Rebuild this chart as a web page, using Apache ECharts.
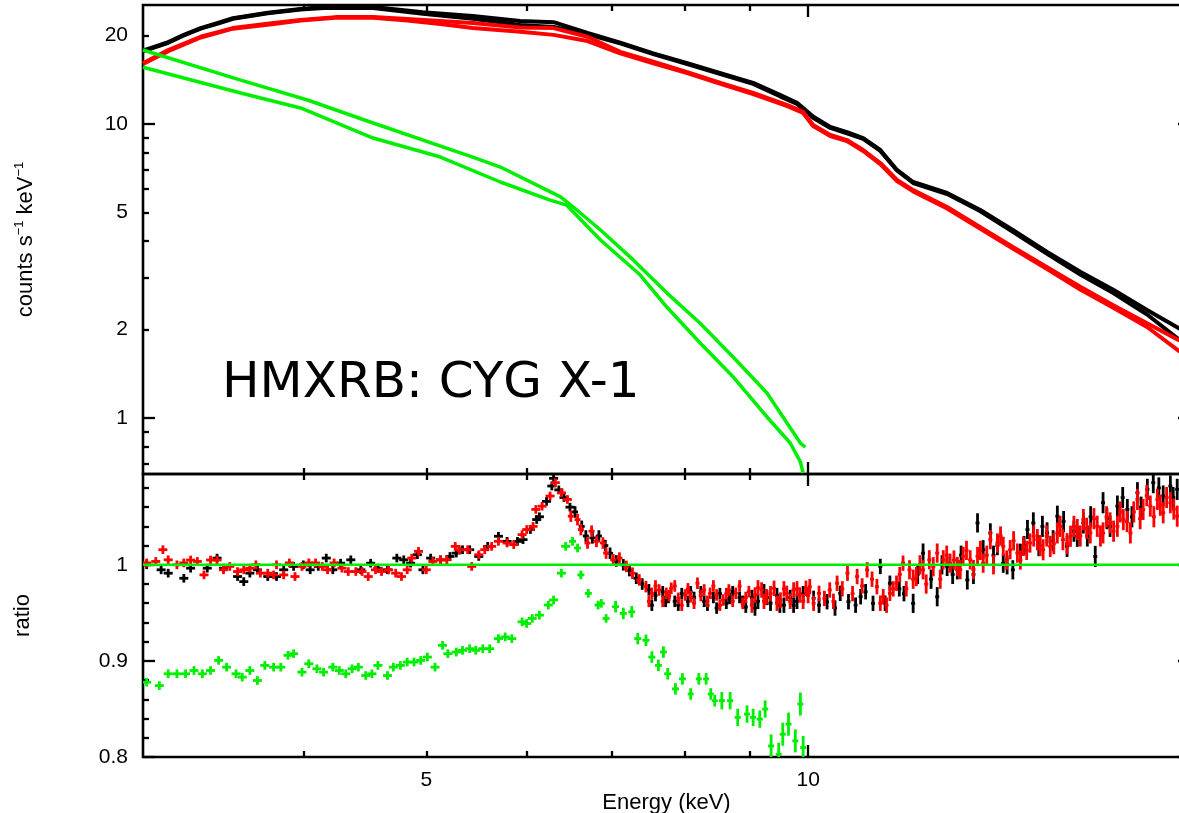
<!DOCTYPE html>
<html><head><meta charset="utf-8">
<script src="https://cdn.jsdelivr.net/npm/echarts@6/dist/echarts.min.js"></script>
<style>html,body{margin:0;padding:0;background:#fff}#c{width:1179px;height:813px}</style>
</head><body><div id="c"></div>
<script>
// ---------- data (energy keV, value) ----------
const black1 = [[2.99,17.8],[3.03,18.1],[3.13,19.0],[3.22,20.1],[3.32,21.2],[3.42,22.05],[3.52,22.9],[3.75,23.9],[3.98,24.6],[4.15,25.0],[4.54,25.0],[4.97,24.0],[5.44,23.3],[5.93,22.4],[6.3,22.2],[6.7,20.4],[7.11,18.9],[7.55,17.4],[8.03,16.1],[8.53,14.9],[9.05,13.8],[9.51,12.55],[9.8,11.8],[10.09,10.6],[10.41,9.77],[10.73,9.39],[11.05,8.96],[11.4,8.16],[11.75,6.98],[12.1,6.35],[12.87,5.83],[13.67,5.10],[14.5,4.36],[15.43,3.67],[16.4,3.14],[17.4,2.73],[18.5,2.33],[19.6,2.02],[20,1.96]];
const black2 = [[2.99,17.7],[3.03,18.0],[3.13,18.9],[3.22,20.0],[3.32,21.1],[3.42,21.9],[3.52,22.8],[3.75,23.8],[3.98,24.5],[4.15,24.8],[4.54,24.8],[4.97,23.7],[5.44,22.8],[5.93,21.7],[6.3,21.4],[6.7,20.2],[7.11,18.8],[7.55,17.3],[8.03,16.0],[8.53,14.8],[9.05,13.7],[9.51,12.4],[9.8,11.7],[10.09,10.5],[10.41,9.7],[10.73,9.3],[11.05,8.9],[11.4,8.1],[11.75,6.95],[12.1,6.3],[12.87,5.78],[13.67,5.05],[14.5,4.3],[15.43,3.62],[16.4,3.07],[17.4,2.66],[18.5,2.25],[19.6,1.85],[20,1.80]];
const red1 = [[2.99,16.1],[3.13,17.85],[3.32,19.8],[3.52,21.2],[3.79,22.05],[3.98,22.6],[4.24,23.1],[4.54,23.1],[4.83,22.75],[5.13,22.4],[5.44,22.05],[5.93,21.3],[6.3,21.2],[6.7,19.8],[7.11,17.6],[7.55,16.3],[8.03,15.0],[8.53,13.8],[9.05,12.75],[9.63,11.6],[9.91,11.0],[10.09,9.92],[10.41,9.18],[10.73,8.82],[11.05,8.16],[11.4,7.37],[11.75,6.45],[12.1,5.96],[12.87,5.22],[13.67,4.46],[14.5,3.82],[15.43,3.26],[16.4,2.79],[17.4,2.42],[18.5,2.10],[19.6,1.84],[20,1.79]];
const red2 = [[2.99,16.0],[3.13,17.7],[3.32,19.7],[3.52,21.1],[3.79,21.9],[3.98,22.5],[4.24,23.0],[4.54,23.0],[4.83,22.5],[5.13,21.9],[5.44,21.2],[5.93,20.6],[6.3,20.1],[6.7,19.15],[7.11,17.4],[7.55,16.1],[8.03,14.9],[8.53,13.7],[9.05,12.65],[9.63,11.5],[9.91,10.9],[10.09,9.85],[10.41,9.1],[10.73,8.75],[11.05,8.1],[11.4,7.3],[11.75,6.4],[12.1,5.9],[12.87,5.16],[13.67,4.4],[14.5,3.77],[15.43,3.21],[16.4,2.73],[17.4,2.37],[18.5,2.04],[19.6,1.69],[20,1.65]];
const greenUp = [[2.99,17.85],[3.57,14.1],[4.03,12.07],[4.54,10.08],[5.44,7.72],[5.72,7.14],[6.38,5.65],[6.53,5.22],[6.86,4.36],[7.28,3.45],[7.74,2.66],[8.22,2.10],[8.73,1.61],[9.28,1.216],[9.86,0.822],[9.95,0.796]];
const greenLo = [[2.99,15.6],[3.57,12.75],[3.98,11.34],[4.54,8.96],[5.13,7.72],[5.72,6.35],[6.26,5.51],[6.45,5.3],[6.86,4.03],[7.37,3.07],[7.74,2.38],[8.22,1.80],[8.73,1.378],[9.28,1.008],[9.68,0.822],[9.86,0.709],[9.91,0.65]];

const ratioBlack = [[3.01,1.0],[3.09,0.9948],[3.13,0.9913],[3.22,0.986],[3.26,0.9965],[3.36,0.9965],[3.42,1.007],[3.46,0.9965],[3.55,0.9878],[3.59,0.9825],[3.63,0.9913],[3.68,0.9948],[3.75,0.9878],[3.81,0.9878],[3.86,0.9948],[3.93,0.9983],[4.0,1.0],[4.05,0.9948],[4.11,0.9983],[4.17,1.007],[4.22,0.9948],[4.28,1.0017],[4.36,1.0052],[4.44,0.9948],[4.52,1.0017],[4.58,0.9965],[4.66,0.9948],[4.74,1.007],[4.8,1.0052],[4.86,1.0017],[4.92,1.0105],[4.97,0.9948],[5.04,1.007],[5.13,1.0052],[5.22,1.0087],[5.28,1.0122],[5.34,1.0157],[5.41,1.0157],[5.5,1.0087],[5.59,1.0192],[5.7,1.0297],[5.79,1.0244],[5.9,1.0244],[5.96,1.0262],[6.04,1.0367],[6.11,1.0471],[6.14,1.05],[6.22,1.066],[6.28,1.082],[6.30,1.09],[6.36,1.078],[6.42,1.07],[6.49,1.06],[6.55,1.055],[6.63,1.04],[6.68,1.03],[6.76,1.028],[6.84,1.03],[6.92,1.02],[6.98,1.012],[7.06,1.004],[7.15,1.0],[7.23,0.994],[7.32,0.986],[7.40,0.98],[7.49,0.974],[7.58,0.968],[7.68,0.972],[7.76,0.966],[7.85,0.962],[7.95,0.97],[8.04,0.962],[8.13,0.966],[8.23,0.972],[8.33,0.958],[8.42,0.966],[8.52,0.97],[8.62,0.96],[8.72,0.972],[8.83,0.966],[8.93,0.956],[9.03,0.966],[9.13,0.962],[9.23,0.972],[9.34,0.96],[9.45,0.968],[9.57,0.958],[9.68,0.966],[9.8,0.962],[9.91,0.97],[10.1,0.9651],[10.35,0.9616],[10.6,0.9703],[10.76,0.9616],[11.0,0.9668],[11.25,0.9599],[11.4,0.9983],[11.6,0.9808],[11.8,0.975],[12.1,0.9599],[12.32,1.0122],[12.5,0.985],[12.64,0.9668],[12.87,0.9983],[13.0,0.99],[13.11,0.9948],[13.35,0.9843],[13.6,1.0436],[13.74,1.0157],[13.92,1.0332],[14.0,1.01],[14.25,1.0017],[14.5,0.9948],[14.7,1.012],[14.89,1.0367],[15.05,1.0436],[15.2,1.02],[15.43,1.0332],[15.72,1.0506],[16.0,1.0192],[16.3,1.0297],[16.48,1.0436],[16.6,1.03],[16.84,1.0087],[17.08,1.0646],[17.3,1.04],[17.53,1.0611],[17.85,1.0576],[18.0,1.05],[18.18,1.075],[18.51,1.0785],[18.71,1.0855],[19.05,1.0716],[19.3,1.082],[19.54,1.0785],[19.9,1.08]];
const ratioBlackB = [[7.53,0.958],[7.72,0.962],[7.9,0.958],[8.08,0.972],[8.28,0.962],[8.47,0.955],[8.67,0.965],[8.88,0.962],[9.08,0.955],[9.28,0.966],[9.5,0.958],[9.74,0.958],[10.2,0.958],[10.5,0.955],[10.9,0.958],[11.1,0.972],[11.5,0.96],[11.9,0.97],[12.2,0.99],[12.75,1.0],[13.2,1.01],[13.5,0.99],[14.1,1.02],[14.35,1.0],[14.8,1.02],[15.3,1.04],[15.6,1.025],[15.9,1.045],[16.2,1.035],[16.7,1.05],[17.2,1.048],[17.7,1.07],[18.3,1.06],[18.9,1.08],[19.4,1.07],[19.8,1.09]];
const ratioRed = [[3.01,1.002],[3.06,1.0035],[3.10,1.0157],[3.13,1.0052],[3.18,1.0],[3.22,1.002],[3.26,1.005],[3.30,1.0035],[3.34,0.9895],[3.38,1.005],[3.42,1.005],[3.46,0.9948],[3.50,0.9983],[3.55,0.993],[3.59,0.9948],[3.63,0.9965],[3.67,1.0],[3.70,0.9913],[3.75,0.9913],[3.79,0.9895],[3.81,1.0],[3.86,0.9895],[3.90,1.002],[3.94,0.9878],[3.99,0.9983],[4.04,1.002],[4.09,1.002],[4.14,0.9983],[4.18,0.9948],[4.23,1.002],[4.29,0.9965],[4.34,0.993],[4.40,0.993],[4.45,0.993],[4.50,0.9878],[4.56,0.9948],[4.61,0.993],[4.67,0.9948],[4.73,0.9913],[4.78,0.9878],[4.83,0.9948],[4.87,1.007],[4.93,1.014],[5.0,0.9948],[5.06,1.0035],[5.13,1.0052],[5.19,1.0052],[5.27,1.0192],[5.31,1.0157],[5.39,1.0157],[5.43,0.9983],[5.50,1.0105],[5.56,1.0157],[5.63,1.0192],[5.70,1.0244],[5.79,1.0227],[5.86,1.021],[5.95,1.0314],[6.00,1.0367],[6.07,1.04],[6.10,1.0576],[6.17,1.061],[6.26,1.0716],[6.32,1.0855],[6.39,1.075],[6.46,1.068],[6.50,1.0506],[6.58,1.047],[6.62,1.0367],[6.70,1.0227],[6.75,1.035],[6.81,1.0244],[6.89,1.0227],[6.93,1.0122],[7.02,1.0052],[7.10,1.007],[7.19,0.9983],[7.27,0.9913],[7.36,0.9843],[7.45,0.9773],[7.53,0.9703],[7.63,0.9738],[7.73,0.9703],[7.80,0.9756],[7.90,0.9651],[8.0,0.9686],[8.08,0.9668],[8.18,0.9808],[8.28,0.9738],[8.37,0.9703],[8.47,0.9686],[8.57,0.9633],[8.66,0.9738],[8.77,0.9703],[8.88,0.9599],[8.98,0.9721],[9.08,0.9686],[9.19,0.9738],[9.27,0.9668],[9.40,0.9756],[9.51,0.9633],[9.62,0.9703],[9.74,0.9738],[9.85,0.9686],[9.96,0.9756],[10.03,0.9773],[10.2,0.9703],[10.4,0.9738],[10.54,0.9808],[10.74,0.9913],[10.93,0.9878],[11.13,0.9948],[11.33,0.9773],[11.46,0.9668],[11.6,0.9703],[11.74,0.9808],[11.88,1.0017],[12.02,0.9948],[12.17,0.9878],[12.32,0.9948],[12.46,1.0052],[12.64,1.0122],[12.78,1.0052],[12.94,1.0017],[13.11,0.9983],[13.25,1.0087],[13.42,1.0052],[13.6,1.0087],[13.74,1.0017],[13.92,1.0262],[14.1,1.0227],[14.25,1.0192],[14.43,1.0157],[14.62,1.0122],[14.78,1.0192],[14.96,1.0227],[15.16,1.0262],[15.32,1.0157],[15.52,1.0192],[15.72,1.0332],[15.88,1.0262],[16.1,1.0297],[16.3,1.0367],[16.48,1.0471],[16.69,1.0332],[16.9,1.0401],[17.08,1.0332],[17.3,1.0436],[17.53,1.0401],[17.72,1.0471],[17.95,1.0332],[18.18,1.0681],[18.37,1.0576],[18.61,1.0611],[18.85,1.0681],[19.05,1.0541],[19.3,1.0646],[19.54,1.0506],[19.9,1.06]];
const ratioRedB = [[7.49,0.962],[7.58,0.978],[7.68,0.962],[7.77,0.968],[7.85,0.978],[7.95,0.958],[8.04,0.975],[8.13,0.96],[8.23,0.968],[8.33,0.962],[8.42,0.978],[8.52,0.958],[8.62,0.97],[8.72,0.962],[8.83,0.978],[8.93,0.966],[9.03,0.958],[9.13,0.976],[9.23,0.962],[9.34,0.97],[9.45,0.96],[9.57,0.975],[9.68,0.962],[9.8,0.975],[9.91,0.962],[10.0,0.968],[10.1,0.96],[10.3,0.965],[10.47,0.962],[10.64,0.975],[10.84,0.97],[11.03,0.978],[11.23,0.985],[11.4,0.96],[11.53,0.958],[11.67,0.975],[11.81,0.99],[11.95,0.975],[12.1,0.985],[12.25,1.0],[12.39,0.98],[12.55,0.998],[12.71,0.985],[12.86,1.01],[13.03,1.005],[13.18,0.995],[13.33,1.015],[13.5,0.995],[13.67,1.015],[13.83,1.01],[14.0,1.0],[14.18,1.03],[14.34,1.005],[14.52,1.025],[14.7,1.005],[14.87,1.015],[15.06,1.03],[15.24,1.02],[15.42,1.03],[15.62,1.022],[15.8,1.04],[16.0,1.022],[16.2,1.04],[16.39,1.03],[16.58,1.038],[16.8,1.048],[17.0,1.03],[17.19,1.05],[17.41,1.035],[17.62,1.055],[17.84,1.045],[18.06,1.055],[18.27,1.048],[18.49,1.072],[18.73,1.05],[18.95,1.062],[19.17,1.07],[19.42,1.058],[19.7,1.068]];
const ratioGreen = [[3.01,0.8778],[3.08,0.8743],[3.13,0.8866],[3.18,0.8866],[3.23,0.8866],[3.28,0.89],[3.33,0.8866],[3.38,0.89],[3.43,0.9005],[3.48,0.8935],[3.54,0.8866],[3.58,0.8831],[3.63,0.89],[3.68,0.8796],[3.73,0.8953],[3.79,0.8935],[3.84,0.8935],[3.89,0.9058],[3.93,0.9075],[3.99,0.8883],[4.04,0.897],[4.10,0.8918],[4.15,0.8883],[4.22,0.8935],[4.27,0.89],[4.32,0.8866],[4.37,0.8918],[4.42,0.8935],[4.48,0.8848],[4.53,0.8866],[4.58,0.8953],[4.66,0.8848],[4.71,0.8935],[4.77,0.8953],[4.83,0.8988],[4.89,0.8988],[4.95,0.9005],[5.01,0.904],[5.08,0.8935],[5.15,0.9162],[5.2,0.9075],[5.28,0.9092],[5.34,0.911],[5.41,0.9127],[5.47,0.911],[5.54,0.9127],[5.61,0.9127],[5.7,0.9232],[5.77,0.925],[5.84,0.9232],[5.95,0.9407],[6.0,0.9389],[6.06,0.9442],[6.14,0.9476],[6.24,0.9581],[6.3,0.9634],[6.39,0.9913],[6.44,1.0192],[6.52,1.0244],[6.58,1.0175],[6.62,0.9895],[6.71,0.9703],[6.83,0.9581],[6.87,0.9599],[6.93,0.9442],[7.05,0.9564],[7.15,0.9494],[7.26,0.9511],[7.34,0.9232],[7.45,0.9215],[7.53,0.904],[7.62,0.8953],[7.69,0.9092],[7.75,0.8866],[7.86,0.8709],[7.96,0.8813],[8.08,0.8656],[8.2,0.8813],[8.31,0.8813],[8.38,0.8656],[8.44,0.8586],[8.55,0.8586],[8.68,0.8586],[8.8,0.8412],[8.95,0.8447],[9.05,0.8412],[9.16,0.8394],[9.25,0.8499],[9.35,0.8115],[9.48,0.8028],[9.55,0.8237],[9.65,0.8342],[9.77,0.8168],[9.86,0.8551],[9.91,0.8098]];
const unityLine = [[2.99,1],[20,1]];

// ratio error sizes by energy band: [from keV, +/- ratio]
const errBlackRed = [[0,0.0045],[6.5,0.006],[9,0.008],[12,0.010],[15,0.011]];
const errGreen = [[0,0.0045],[7,0.006],[8.5,0.009],[9.3,0.012]];

// axes
const X_MIN = 2.99, X_MAX = 20;
const TOP_MIN = 0.645, TOP_MAX = 25.4;
const R_MIN = 0.8, R_MAX = 1.0945;
const xMajor = [10], xMinor = [4,5,6,7,8,9,20], xLabels = [5,10];
const topMajor = [1,10], topMinor = [0.7,0.8,0.9,2,3,4,5,6,7,8,9,20], topLabels = [1,2,5,10,20];
const rMajor = [0.8,0.9,1.0], rMinor = [0.82,0.84,0.86,0.88,0.92,0.94,0.96,0.98,1.02,1.04,1.06,1.08], rLabels = [0.8,0.9,1];

// ---------- chart ----------
const L = Math.log10;
const FONT = '"Liberation Sans", Arial, Helvetica, sans-serif';
const GREEN = '#00ee00';
const MAJ = 12, MIN_T = 6;
const LABEL_SIZE = 21, NAME_SIZE = 22;

function fmt(v, logSpace){
  if (logSpace) return String(+Math.pow(10, v).toPrecision(3));
  return String(+v.toFixed(2));
}
function tickAxis(grid, pos, logSpace, min, max, values, len){
  return {type:'value', gridIndex:grid, position:pos,
    min: logSpace ? L(min) : min, max: logSpace ? L(max) : max,
    axisLine:{show:false, onZero:false}, splitLine:{show:false},
    axisTick:{show:true, inside:true, length:len, customValues: values.map(v => logSpace ? L(v) : v),
      lineStyle:{color:'#000', width:2.3}},
    axisLabel:{show:false}};
}
function labelAxis(grid, pos, logSpace, min, max, values, margin){
  return {type:'value', gridIndex:grid, position:pos,
    min: logSpace ? L(min) : min, max: logSpace ? L(max) : max,
    axisLine:{show:false, onZero:false}, splitLine:{show:false}, axisTick:{show:false},
    axisLabel:{show:true, customValues: values.map(v => logSpace ? L(v) : v), margin:margin,
      color:'#000', fontFamily:FONT, fontSize:LABEL_SIZE, formatter: v => fmt(v, logSpace)}};
}
function bandErr(bands, e){
  let r = bands[0][1];
  for (const b of bands) if (e >= b[0]) r = b[1];
  return r;
}
function crossSeries(name, data, color, bands, hwBands, z){
  return {type:'custom', name:name, xAxisIndex:1, yAxisIndex:1, data:data, z:z, clip:true, silent:true,
    encode:{x:0, y:1},
    renderItem:(params, api) => {
      const e = api.value(0), r = api.value(1);
      const p = api.coord([e, r]);
      const hw = bandErr(hwBands, e);
      const err = bandErr(bands, e);
      const t = api.coord([e, r+err])[1], b = api.coord([e, r-err])[1];
      return {type:'group', children:[
        {type:'line', shape:{x1:p[0]-hw, y1:p[1], x2:p[0]+hw, y2:p[1]}, style:{stroke:color, lineWidth:2.8}},
        {type:'line', shape:{x1:p[0], y1:t, x2:p[0], y2:b}, style:{stroke:color, lineWidth:2.8}}]};
    }};
}
function lineSeries(name, data, color, w, z){
  return {type:'line', name:name, xAxisIndex:0, yAxisIndex:0, data:data, showSymbol:false, symbol:'none',
    lineStyle:{color:color, width:w}, itemStyle:{color:color}, z:z, silent:true, clip:true};
}
const HW_BR = [[0,4.5],[6.5,3],[7.4,2]];
const HW_G = [[0,4.5],[6.5,3.5],[8,3]];
const nameRich = {
  a:{fontFamily:FONT, fontSize:NAME_SIZE, color:'#000', lineHeight:26},
  s:{fontFamily:FONT, fontSize:13, color:'#000', verticalAlign:'top', lineHeight:26}
};

const chart = echarts.init(document.getElementById('c'), null, {renderer:'canvas'});
const GRID_W = 1047;
chart.setOption({
  animation:false,
  backgroundColor:'#fff',
  grid:[
    {left:143, top:5, width:GRID_W, height:469, show:true, borderColor:'#000', borderWidth:2.6, backgroundColor:'transparent', outerBoundsMode:'none', containLabel:false},
    {left:143, top:474, width:GRID_W, height:283, show:true, borderColor:'#000', borderWidth:2.6, backgroundColor:'transparent', outerBoundsMode:'none', containLabel:false}
  ],
  xAxis:[
    {type:'log', gridIndex:0, min:X_MIN, max:X_MAX, show:false},
    {type:'log', gridIndex:1, min:X_MIN, max:X_MAX, show:false},
    tickAxis(0,'bottom',true,X_MIN,X_MAX,xMajor,MAJ),
    tickAxis(0,'bottom',true,X_MIN,X_MAX,xMinor,MIN_T),
    tickAxis(0,'top',true,X_MIN,X_MAX,xMajor,MAJ),
    tickAxis(0,'top',true,X_MIN,X_MAX,xMinor,MIN_T),
    tickAxis(1,'bottom',true,X_MIN,X_MAX,xMajor,MAJ),
    tickAxis(1,'bottom',true,X_MIN,X_MAX,xMinor,MIN_T),
    tickAxis(1,'top',true,X_MIN,X_MAX,xMajor,MAJ),
    tickAxis(1,'top',true,X_MIN,X_MAX,xMinor,MIN_T),
    Object.assign(labelAxis(1,'bottom',true,X_MIN,X_MAX,xLabels,13),
      {name:'Energy (keV)', nameLocation:'middle', nameGap:34,
       nameTextStyle:{fontFamily:FONT, fontSize:NAME_SIZE, color:'#000'}})
  ],
  yAxis:[
    {type:'log', gridIndex:0, min:TOP_MIN, max:TOP_MAX, show:false},
    {type:'value', gridIndex:1, min:R_MIN, max:R_MAX, show:false},
    tickAxis(0,'left',true,TOP_MIN,TOP_MAX,topMajor,MAJ),
    tickAxis(0,'left',true,TOP_MIN,TOP_MAX,topMinor,MIN_T),
    tickAxis(0,'right',true,TOP_MIN,TOP_MAX,topMajor,MAJ),
    tickAxis(0,'right',true,TOP_MIN,TOP_MAX,topMinor,MIN_T),
    Object.assign(labelAxis(0,'left',true,TOP_MIN,TOP_MAX,topLabels,15),
      {name:'{a|counts s}{s|\u22121}{a| keV}{s|\u22121}', nameLocation:'middle', nameGap:104, nameRotate:90,
       nameTextStyle:{fontFamily:FONT, fontSize:NAME_SIZE, color:'#000', rich:nameRich}}),
    tickAxis(1,'left',false,R_MIN,R_MAX,rMajor,MAJ),
    tickAxis(1,'left',false,R_MIN,R_MAX,rMinor,MIN_T),
    tickAxis(1,'right',false,R_MIN,R_MAX,rMajor,MAJ),
    tickAxis(1,'right',false,R_MIN,R_MAX,rMinor,MIN_T),
    Object.assign(labelAxis(1,'left',false,R_MIN,R_MAX,rLabels,15),
      {name:'ratio', nameLocation:'middle', nameGap:109, nameRotate:90,
       nameTextStyle:{fontFamily:FONT, fontSize:NAME_SIZE, color:'#000'}})
  ],
  graphic:[
    {type:'text', x:222, y:384, z:100, style:{text:'HMXRB: CYG X-1', fill:'#000', font:'50px "DejaVu Sans", Verdana, sans-serif', textAlign:'left', textVerticalAlign:'middle'}}
  ],
  series:[
    lineSeries('black1', black1, '#000', 4, 3),
    lineSeries('black2', black2, '#000', 4, 3),
    lineSeries('red1', red1, '#ff0000', 4, 4),
    lineSeries('red2', red2, '#ff0000', 4, 4),
    lineSeries('greenUp', greenUp, GREEN, 3.5, 5),
    lineSeries('greenLo', greenLo, GREEN, 3.5, 5),
    crossSeries('ratioBlack', ratioBlack, '#000', errBlackRed, HW_BR, 3),
    crossSeries('ratioBlackB', ratioBlackB, '#000', errBlackRed, HW_BR, 3),
    crossSeries('ratioRed', ratioRed, '#ff0000', errBlackRed, HW_BR, 4),
    crossSeries('ratioRedB', ratioRedB, '#ff0000', errBlackRed, HW_BR, 4),
    crossSeries('ratioGreen', ratioGreen, GREEN, errGreen, HW_G, 5),
    {type:'line', name:'unity', xAxisIndex:1, yAxisIndex:1, data:unityLine, showSymbol:false, symbol:'none',
     lineStyle:{color:GREEN, width:2.6}, z:6, silent:true}
  ]
});
</script>
</body></html>
